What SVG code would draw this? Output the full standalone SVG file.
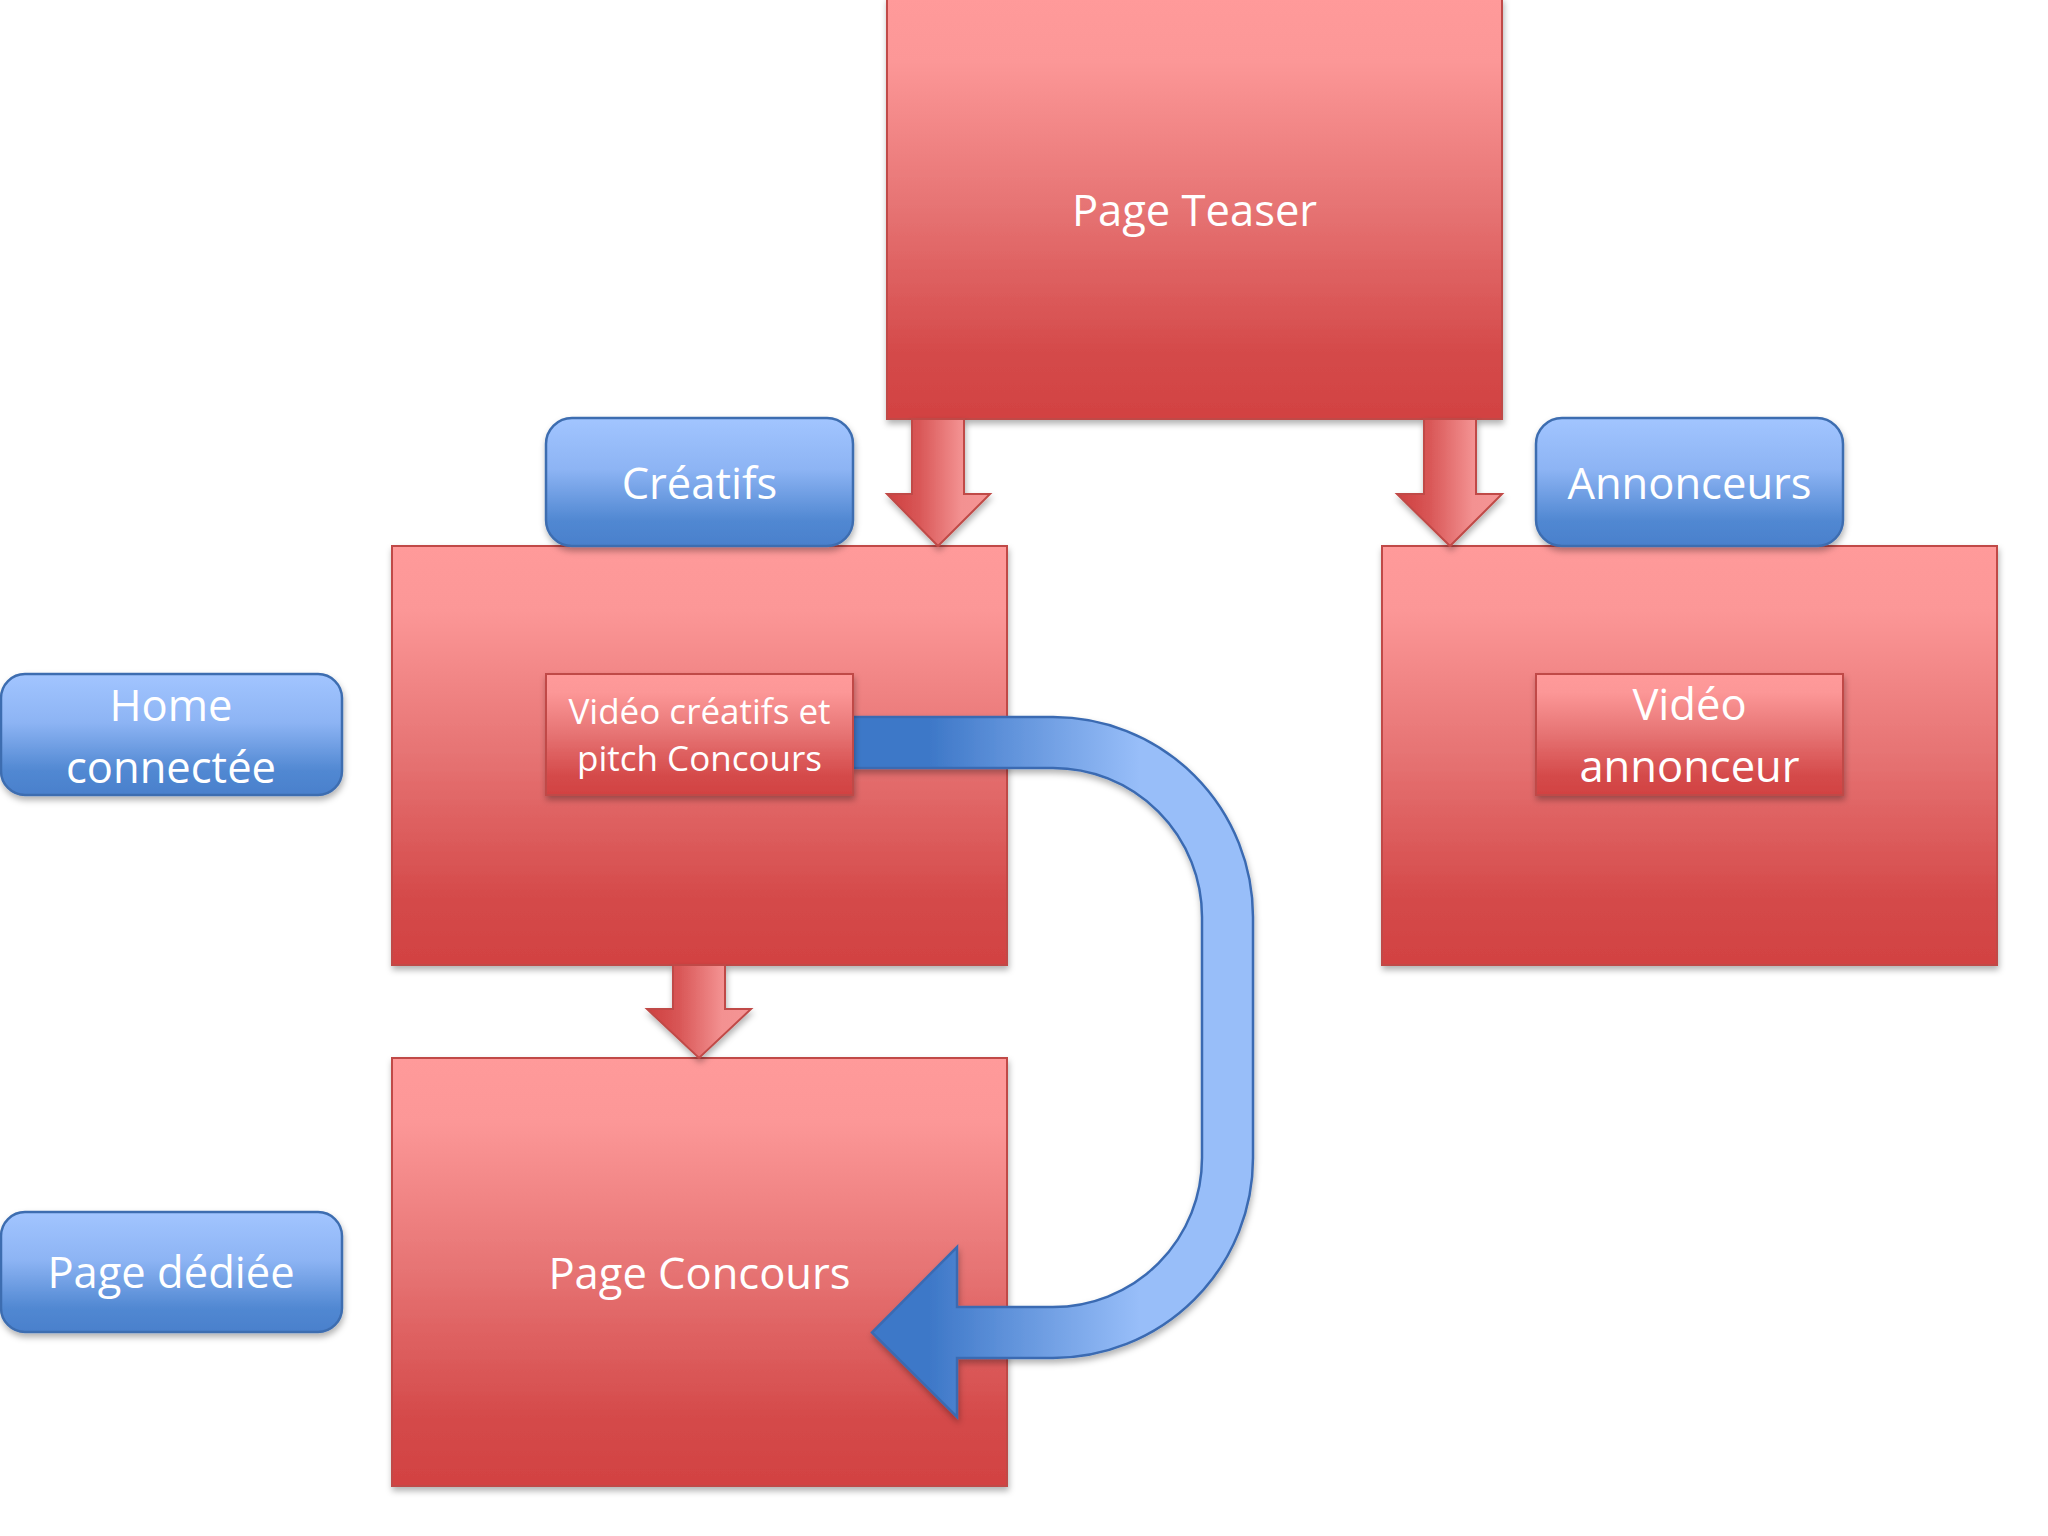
<svg xmlns="http://www.w3.org/2000/svg" width="2048" height="1536" viewBox="0 0 2048 1536">
<defs>
<linearGradient id="gRed" x1="0" y1="0" x2="0" y2="1">
<stop offset="0" stop-color="#FF9A9A"/>
<stop offset="0.15" stop-color="#FC9797"/>
<stop offset="0.5" stop-color="#E67373"/>
<stop offset="0.85" stop-color="#D44949"/>
<stop offset="1" stop-color="#D24242"/>
</linearGradient>
<linearGradient id="gBlue" x1="0" y1="0" x2="0" y2="1">
<stop offset="0" stop-color="#A2C5FF"/>
<stop offset="0.4" stop-color="#8DB4F4"/>
<stop offset="0.8" stop-color="#5188D2"/>
<stop offset="1" stop-color="#4A80CC"/>
</linearGradient>
<linearGradient id="gArrowRed" x1="0" y1="0" x2="1" y2="0">
<stop offset="0" stop-color="#CE4040"/>
<stop offset="0.3" stop-color="#D85555"/>
<stop offset="0.72" stop-color="#F39191"/>
<stop offset="1" stop-color="#F59595"/>
</linearGradient>
<linearGradient id="gArrowBlue" gradientUnits="userSpaceOnUse" x1="930" y1="0" x2="1140" y2="0">
<stop offset="0" stop-color="#3E78C8"/>
<stop offset="1" stop-color="#98BEF9"/>
</linearGradient>
<filter id="sh" x="-10%" y="-10%" width="120%" height="130%">
<feDropShadow dx="1" dy="4" stdDeviation="3" flood-color="#000" flood-opacity="0.3"/>
</filter>
</defs>
<style>
.red{fill:url(#gRed);stroke:#C04A47;stroke-width:2;filter:url(#sh)}
.blue{fill:url(#gBlue);stroke:#3D6DB0;stroke-width:2.5;filter:url(#sh)}
.ra{fill:url(#gArrowRed);stroke:#C04A47;stroke-width:2;stroke-linejoin:miter;filter:url(#sh)}
.ba{fill:url(#gArrowBlue);stroke:#3A6BB2;stroke-width:2.5;filter:url(#sh)}
.t{font-family:"Open Sans","Noto Sans","Liberation Sans",sans-serif;fill:#FFFFFF;font-size:43.5px;text-anchor:middle}
.ts{font-size:35px}
</style>
<rect width="2048" height="1536" fill="#FFFFFF"/>

<g id="page-teaser">
<rect class="red" x="887" y="-2" width="615" height="421"/>
<text class="t" x="1194.5" y="226">Page Teaser</text>
</g>

<g id="creatifs-section">
<rect class="red" x="392" y="546" width="615" height="419"/>
</g>

<g id="annonceurs-section">
<rect class="red" x="1382" y="546" width="615" height="419"/>
</g>

<g id="page-concours">
<rect class="red" x="392" y="1058" width="615" height="428"/>
<text class="t" x="699.5" y="1289">Page Concours</text>
</g>

<g id="connectors">
<path class="ra" d="M912 419 L964 419 L964 494 L990 494 L938 546 L887 494 L912 494 Z"/>
<path class="ra" d="M1424 419 L1476 419 L1476 494 L1502 494 L1450 546 L1397 494 L1424 494 Z"/>
<path class="ra" d="M673 965 L725 965 L725 1009 L751 1009 L699 1058 L647 1009 L673 1009 Z"/>
<path class="ba" d="M853 717 L1053 717 A200 200 0 0 1 1253 917 L1253 1158 A200 200 0 0 1 1053 1358 L957 1358 L957 1417 L872 1332.5 L957 1247 L957 1307 L1053 1307 A149 149 0 0 0 1202 1158 L1202 917 A149 149 0 0 0 1053 768 L853 768 Z"/>
</g>

<g id="video-creatifs">
<rect class="red" x="546" y="674" width="307" height="121"/>
<text class="t ts" x="699.5" y="724">Vidéo créatifs et</text>
<text class="t ts" x="699.5" y="771">pitch Concours</text>
</g>

<g id="video-annonceur">
<rect class="red" x="1536" y="674" width="307" height="121"/>
<text class="t" x="1689.5" y="720">Vidéo</text>
<text class="t" x="1689.5" y="782">annonceur</text>
</g>

<g id="creatifs">
<rect class="blue" x="546" y="418" width="307" height="128" rx="26" ry="26"/>
<text class="t" x="699.5" y="499">Créatifs</text>
</g>

<g id="annonceurs">
<rect class="blue" x="1536" y="418" width="307" height="128" rx="26" ry="26"/>
<text class="t" x="1689.5" y="499">Annonceurs</text>
</g>

<g id="home-connectee">
<rect class="blue" x="1" y="674" width="341" height="121" rx="24" ry="24"/>
<text class="t" x="171" y="721">Home</text>
<text class="t" x="171" y="783">connectée</text>
</g>

<g id="page-dediee">
<rect class="blue" x="1" y="1212" width="341" height="120" rx="24" ry="24"/>
<text class="t" x="171" y="1288">Page dédiée</text>
</g>
</svg>
